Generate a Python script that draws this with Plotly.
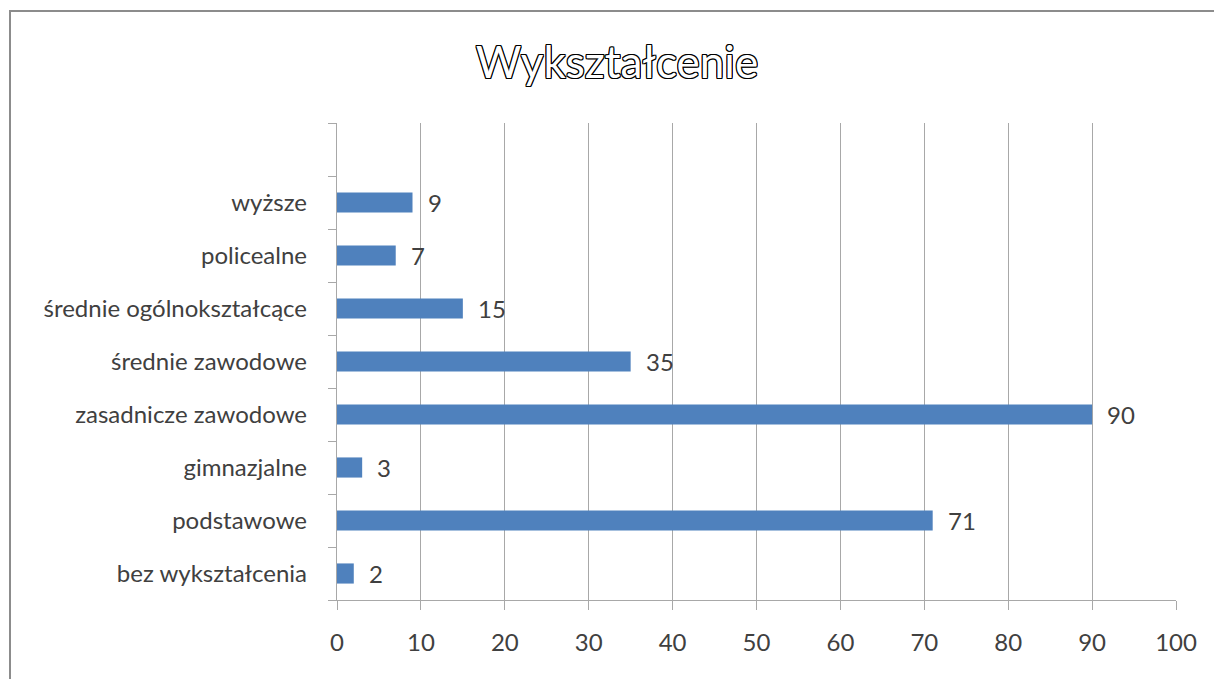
import plotly.graph_objects as go

categories = ["bez wykształcenia", "podstawowe", "gimnazjalne", "zasadnicze zawodowe",
              "średnie zawodowe", "średnie ogólnokształcące", "policealne", "wyższe"]
values = [2, 71, 3, 90, 35, 15, 7, 9]
x_ticks = [0, 10, 20, 30, 40, 50, 60, 70, 80, 90, 100]
title_text = "Wykształcenie"

W, H = 1214, 679
L, R, T, B = 337, 1214 - 1176, 123, 679 - 600
pw, ph = W - L - R, H - T - B

n = len(categories)
pos = list(range(n))
ymin, ymax = -0.5, n + 0.5
boundaries = [i - 0.5 for i in range(n + 2)]

FONT = "Lato, Calibri, Carlito, sans-serif"
TXT = "#404040"
GRID = "#a8a8a8"
FS = 24

fig = go.Figure()
fig.add_trace(go.Bar(
    x=values, y=pos, orientation="h", width=0.38,
    marker=dict(color="#4f81bd", line=dict(width=0)),
    hoverinfo="skip", yaxis="y",
))

for v, p in zip(values, pos):
    fig.add_annotation(x=v, y=p, text=str(v), showarrow=False, xanchor="left",
                       xshift=13, yshift=0, font=dict(family=FONT, size=FS, color=TXT))

fig.update_layout(
    width=W, height=H,
    margin=dict(l=L, r=R, t=T, b=B, pad=0),
    paper_bgcolor="white", plot_bgcolor="white",
    showlegend=False,
    title=dict(text=title_text, x=(617 - L) / pw, xref="paper", xanchor="center",
               y=1 - 63 / H, yanchor="middle",
               font=dict(family=FONT, size=44, color="white",
                         shadow="1px 1px 0 #000, -1px -1px 0 #000, 1px -1px 0 #000, -1px 1px 0 #000, 0 1px 0 #000, 0 -1px 0 #000, 1px 0 0 #000, -1px 0 0 #000")),
    xaxis=dict(range=[0, 100], tickvals=x_ticks, showgrid=True, gridcolor=GRID, gridwidth=1,
               showline=True, linecolor=GRID, linewidth=1, ticks="outside", ticklen=9,
               tickcolor=GRID, zeroline=False, ticklabelstandoff=12,
               tickfont=dict(family=FONT, size=FS, color=TXT), fixedrange=True),
    yaxis=dict(range=[ymin, ymax], tickvals=boundaries, showticklabels=False,
               ticks="outside", ticklen=8, tickcolor=GRID, showline=True, linecolor=GRID,
               linewidth=1, showgrid=False, zeroline=False, fixedrange=True),
    yaxis2=dict(range=[ymin, ymax], overlaying="y", side="left", anchor="x",
                tickvals=pos, ticktext=categories, ticks="", showgrid=False,
                zeroline=False, showline=False, ticklabelstandoff=29,
                tickfont=dict(family=FONT, size=FS, color=TXT), fixedrange=True),
)
# invisible trace to activate yaxis2
fig.add_trace(go.Scatter(x=[None], y=[None], yaxis="y2", showlegend=False, hoverinfo="skip"))

# chart frame (border of the chart object)
fig.add_shape(type="rect", xref="paper", yref="paper",
              x0=(10 - L) / pw, x1=(1240 - L) / pw,
              y0=(H - B - 700) / ph, y1=(H - B - 11) / ph,
              line=dict(color="#8c8c8c", width=2), fillcolor="rgba(0,0,0,0)", layer="below")

fig.write_html("out.html", config={"displayModeBar": False},
               post_script="document.body.style.margin='0';document.body.style.overflow='hidden';")
